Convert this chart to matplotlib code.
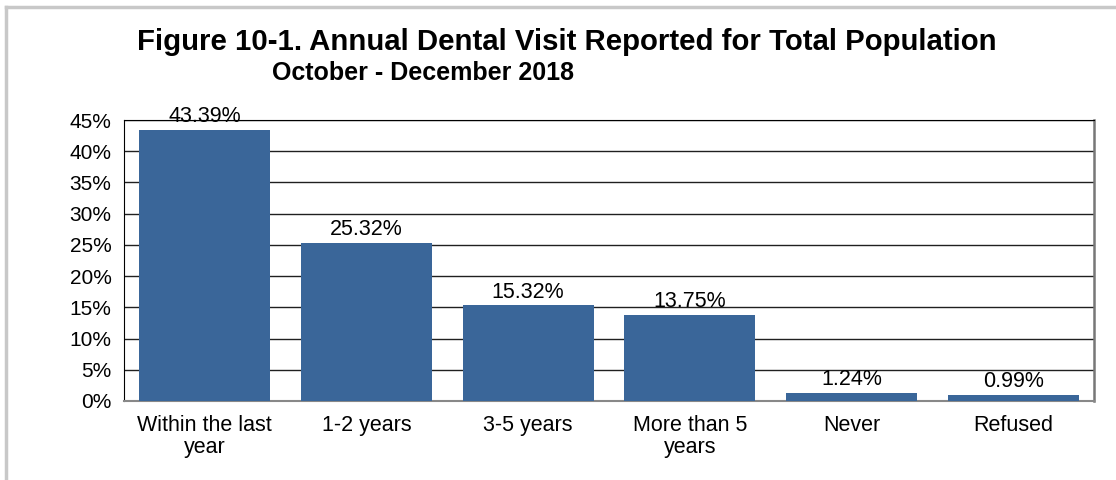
import numpy as np
import matplotlib.pyplot as plt
from matplotlib.lines import Line2D

plt.rcParams['font.family'] = ['Liberation Sans', 'DejaVu Sans']

# annual dental visit, share of total population
categories = ["Within the last\nyear", "1-2 years", "3-5 years", "More than 5\nyears", "Never", "Refused"]
percents = [43.39, 25.32, 15.32, 13.75, 1.24, 0.99]
yticks = [0, 5, 10, 15, 20, 25, 30, 35, 40, 45]

fig = plt.figure(figsize=(11.16, 4.8), dpi=100)
ax = fig.add_axes([124 / 1116, 1 - 401 / 480, 970 / 1116, 281 / 480])

x = np.arange(len(categories))
ax.bar(x, percents, width=0.81, color="#3A6699", zorder=3)
for xi, v in zip(x, percents):
    ax.annotate(f"{v:.2f}%", (xi, v), xytext=(0, 2), textcoords="offset points",
                ha="center", va="bottom", fontsize=15.5, zorder=4)

ax.set_xlim(-0.5, len(categories) - 0.5)
ax.set_ylim(0, 45)
ax.set_yticks(yticks)
ax.set_yticklabels([f"{t}%" for t in yticks], fontsize=15)
ax.set_xticks(x)
ax.set_xticklabels(categories, fontsize=15.5, linespacing=1.05)
ax.tick_params(axis="y", length=0, pad=9)
ax.tick_params(axis="x", length=0, pad=10)
for t in yticks[1:]:
    ax.axhline(t, color="#202020", lw=1.0, zorder=1)

ax.spines["left"].set_color("black")
ax.spines["top"].set_color("black")
ax.spines["bottom"].set_color("#888888")
ax.spines["bottom"].set_linewidth(1.5)
ax.spines["right"].set_color("#777777")
ax.spines["right"].set_linewidth(1.8)

fig.text(567 / 1116, 1 - 41.5 / 480, "Figure 10-1. Annual Dental Visit Reported for Total Population",
         ha="center", va="center", fontsize=21.2, fontweight="bold")
fig.text(272 / 1116, 1 - 73.5 / 480, "October - December 2018",
         ha="left", va="center", fontsize=18, fontweight="bold")

# light frame around the chart area
fig.add_artist(Line2D([6 / 1116, 6 / 1116], [0, 1 - 7 / 480], transform=fig.transFigure,
                      color="#C8C8C8", lw=2.5))
fig.add_artist(Line2D([6 / 1116, 1], [1 - 7 / 480, 1 - 7 / 480], transform=fig.transFigure,
                      color="#C8C8C8", lw=2.5))

fig.savefig("out.png", dpi=100)
